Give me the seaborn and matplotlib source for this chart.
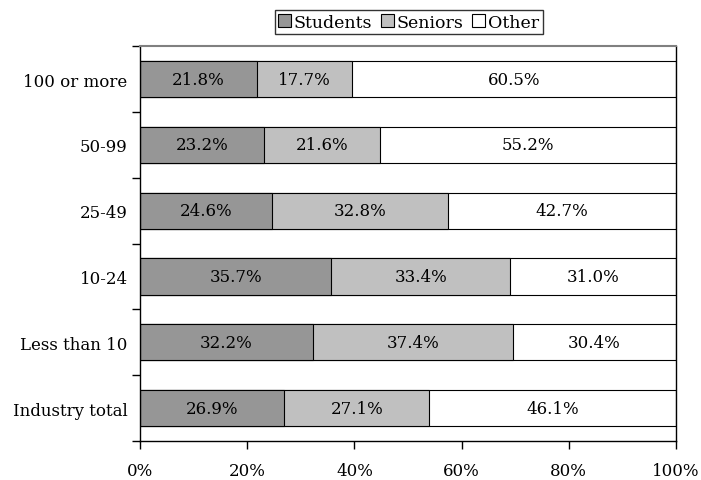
import matplotlib
matplotlib.use("Agg")
import matplotlib.pyplot as plt
import seaborn as sns
import pandas as pd
import numpy as np
from matplotlib.patches import Patch

categories = ["100 or more", "50-99", "25-49", "10-24", "Less than 10", "Industry total"]
students = [21.8, 23.2, 24.6, 35.7, 32.2, 26.9]
seniors = [17.7, 21.6, 32.8, 33.4, 37.4, 27.1]
other = [60.5, 55.2, 42.7, 31.0, 30.4, 46.1]
series_names = ["Students", "Seniors", "Other"]
series_colors = ["#969696", "#c0c0c0", "#ffffff"]
x_ticks = [0, 20, 40, 60, 80, 100]

sns.set_theme(style="white")
plt.rcParams["font.family"] = ["DejaVu Serif", "Liberation Serif"]
plt.rcParams["text.color"] = "black"
plt.rcParams["xtick.color"] = "black"
plt.rcParams["ytick.color"] = "black"

FS = 12

df = pd.DataFrame({"category": categories, "Students": students,
                   "Seniors": seniors, "Other": other})
df["c1"] = df["Students"]
df["c2"] = df["Students"] + df["Seniors"]
df["c3"] = df["Students"] + df["Seniors"] + df["Other"]

fig, ax = plt.subplots(figsize=(7.01, 4.81), dpi=100)
fig.subplots_adjust(left=0.2, right=0.964, top=0.902, bottom=0.081)

# stacked horizontal bars: draw cumulative totals from the back to the front
for col, color in zip(["c3", "c2", "c1"], series_colors[::-1]):
    sns.barplot(data=df, y="category", x=col, order=categories, orient="h",
                color=color, saturation=1, width=0.55, edgecolor="black",
                linewidth=0.8, ax=ax)

# value labels centred in each segment
for i in range(len(categories)):
    left = 0.0
    for vals in (students, seniors, other):
        v = vals[i]
        ax.text(left + v / 2, i, f"{v:.1f}%", ha="center", va="center",
                fontsize=FS, color="black")
        left += v

ax.set_xlim(0, 100)
ax.set_ylim(len(categories) - 0.5, -0.5)
ax.set_xticks(x_ticks)
ax.set_xticklabels([f"{t}%" for t in x_ticks], fontsize=FS)
ax.set_yticks(np.arange(len(categories)))
ax.set_yticklabels(categories, fontsize=FS)
ax.set_xlabel("")
ax.set_ylabel("")

# tick marks sit at the boundaries between categories
ax.set_yticks(np.arange(len(categories) + 1) - 0.5, minor=True)
ax.tick_params(axis="y", which="major", length=0, pad=9)
ax.tick_params(axis="y", which="minor", length=6, width=1, color="black", left=True)
ax.tick_params(axis="x", which="major", length=6, width=1, color="black",
               bottom=True, pad=9)

for side in ["left", "right", "bottom"]:
    ax.spines[side].set_color("black")
    ax.spines[side].set_linewidth(1)
ax.spines["top"].set_color("#808080")
ax.spines["top"].set_linewidth(1.5)

handles = [Patch(facecolor=c, edgecolor="black", linewidth=0.8) for c in series_colors]
leg = fig.legend(handles, series_names, loc="center", bbox_to_anchor=(0.583, 0.952),
                 ncol=3, frameon=True, fancybox=False, fontsize=FS + 0.5,
                 handlelength=0.75, handleheight=0.75, handletextpad=0.15,
                 columnspacing=0.5, borderpad=0.2, borderaxespad=0)
leg.get_frame().set_edgecolor("black")
leg.get_frame().set_linewidth(1)

fig.savefig("out.png", dpi=100)
